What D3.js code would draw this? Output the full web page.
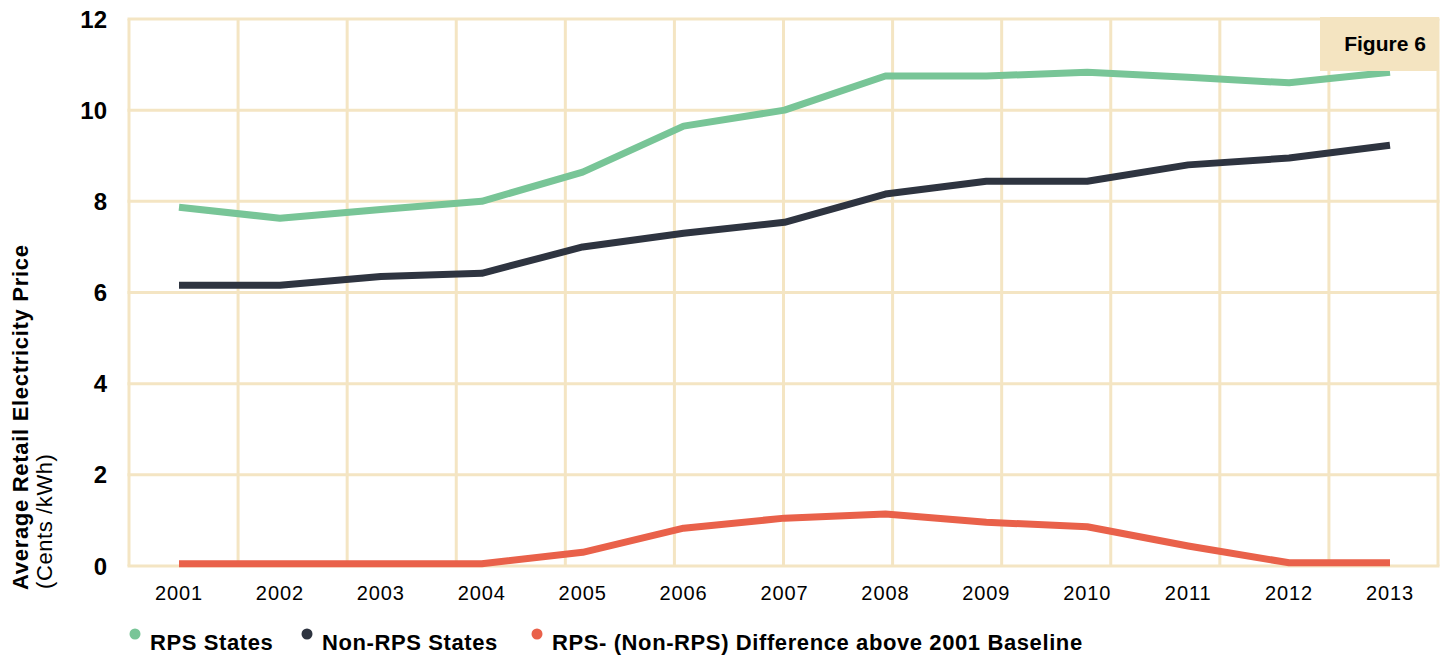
<!DOCTYPE html>
<html>
<head>
<meta charset="utf-8">
<script src="https://cdn.jsdelivr.net/npm/d3@7"></script>
<style>
  body { margin:0; background:#fff; }
  text { font-family: "Liberation Sans", Arial, sans-serif; fill:#000; }
</style>
</head>
<body>
<script>
var years = [2001,2002,2003,2004,2005,2006,2007,2008,2009,2010,2011,2012,2013];
var rpsStates =    [7.87,7.63,7.82,8.0,8.64,9.65,10.0,10.75,10.75,10.83,10.72,10.6,10.83];
var nonRpsStates = [6.16,6.16,6.35,6.42,7.0,7.3,7.54,8.16,8.44,8.44,8.8,8.95,9.23];
var difference =   [0.05,0.05,0.05,0.05,0.3,0.83,1.05,1.14,0.96,0.86,0.44,0.07,0.07];
var yTicks = [0,2,4,6,8,10,12];
var seriesNames = ['RPS States','Non-RPS States','RPS- (Non-RPS) Difference above 2001 Baseline'];
var seriesColors = ['#78c597','#2e3440','#e9614a'];

var width = 1445, height = 656;
var plotLeft = 129, plotRight = 1438, plotTop = 19, plotBottom = 566;

var svg = d3.select('body').append('svg')
    .attr('width', width)
    .attr('height', height);

var y = d3.scaleLinear().domain([0,12]).range([plotBottom, plotTop]);
var x = d3.scaleLinear().domain([2001,2013]).range([179,1390]);
var grid = d3.scaleBand().domain(years.slice(0,12)).range([plotLeft, plotRight]);

var gridColor = '#f4e5c3';
var g = svg.append('g');

// vertical grid lines at the cell edges
var edges = grid.domain().map(function(d){ return grid(d); }).concat([plotRight]);
g.selectAll('.vgrid').data(edges).enter().append('line')
    .attr('x1', function(d){ return d; }).attr('x2', function(d){ return d; })
    .attr('y1', plotTop).attr('y2', plotBottom)
    .attr('stroke', gridColor).attr('stroke-width', 3);

g.selectAll('.hgrid').data(yTicks).enter().append('line')
    .attr('x1', plotLeft - 1.5).attr('x2', plotRight + 1.5)
    .attr('y1', function(d){ return y(d); }).attr('y2', function(d){ return y(d); })
    .attr('stroke', gridColor).attr('stroke-width', 3);

// y tick labels
g.selectAll('.ylab').data(yTicks).enter().append('text')
    .attr('x', 107).attr('y', function(d){ return y(d); })
    .attr('dy', '0.36em')
    .attr('text-anchor', 'end')
    .attr('font-size', '24px').attr('font-weight', 'bold')
    .text(function(d){ return d; });

// x tick labels
g.selectAll('.xlab').data(years).enter().append('text')
    .attr('x', function(d){ return x(d); }).attr('y', 600)
    .attr('text-anchor', 'middle')
    .attr('font-size', '20px')
    .attr('letter-spacing', '0.9px')
    .text(function(d){ return d; });

// y axis title
svg.append('text')
    .attr('transform', 'translate(28,590) rotate(-90)')
    .attr('font-size', '22px').attr('font-weight', 'bold')
    .attr('letter-spacing', '0.7px')
    .text('Average Retail Electricity Price');
svg.append('text')
    .attr('transform', 'translate(52,589) rotate(-90)')
    .attr('font-size', '22px')
    .attr('letter-spacing', '0.6px')
    .text('(Cents /kWh)');

// lines
var line = d3.line()
    .x(function(d,i){ return x(years[i]); })
    .y(function(d){ return y(d); });

[rpsStates, nonRpsStates, difference].forEach(function(vals, k){
  g.append('path')
    .attr('d', line(vals))
    .attr('fill', 'none')
    .attr('stroke', seriesColors[k])
    .attr('stroke-width', 7)
    .attr('stroke-linejoin', 'round');
});

// figure label box
svg.append('rect')
    .attr('x', 1320).attr('y', 17).attr('width', 119).attr('height', 54)
    .attr('fill', '#f4e4c1');
svg.append('text')
    .attr('x', 1385).attr('y', 51)
    .attr('text-anchor', 'middle')
    .attr('font-size', '21px').attr('font-weight', 'bold')
    .text('Figure 6');

// legend
var legendX = [135, 307, 537];
var legend = svg.selectAll('.legend').data(seriesNames).enter().append('g')
    .attr('transform', function(d,i){ return 'translate(' + legendX[i] + ',0)'; });
legend.append('circle')
    .attr('cx', 0).attr('cy', 634).attr('r', 5.5)
    .attr('fill', function(d,i){ return seriesColors[i]; });
legend.append('text')
    .attr('x', 15).attr('y', 650)
    .attr('font-size', '22px').attr('font-weight', 'bold')
    .attr('letter-spacing', '0.6px')
    .text(function(d){ return d; });
</script>
</body>
</html>
